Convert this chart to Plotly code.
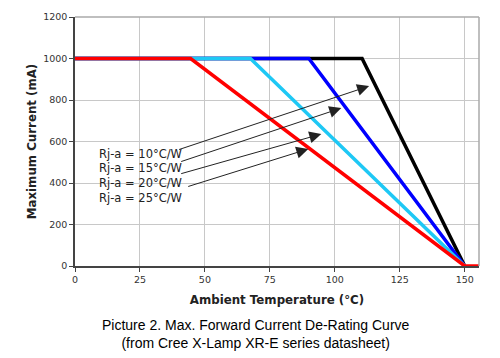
import plotly.graph_objects as go

# Data
temp_black = [0, 110.5, 150]
curr_black = [1000, 1000, 0]
temp_blue = [0, 90, 150]
curr_blue = [1000, 1000, 0]
temp_cyan = [0, 67.5, 150]
curr_cyan = [1000, 1000, 0]
temp_red = [0, 44.5, 150, 155.5]
curr_red = [1000, 1000, 0, 0]

labels = ["Rj-a = 10°C/W", "Rj-a = 15°C/W", "Rj-a = 20°C/W", "Rj-a = 25°C/W"]
label_x = 8.4
label_y = [540, 470, 400, 330]
arrow_tail_x = [39.5, 40.3, 40.3, 43.0]
arrow_tail_y = [559, 501, 443, 381]
arrow_head_x = [113.2, 102.5, 94.8, 89.8]
arrow_head_y = [867, 761, 636, 564]

x_ticks = [0, 25, 50, 75, 100, 125, 150]
y_ticks = [0, 200, 400, 600, 800, 1000, 1200]

fig = go.Figure()
for xs, ys, col in [
    (temp_black, curr_black, "#000000"),
    (temp_blue, curr_blue, "#0000ff"),
    (temp_cyan, curr_cyan, "#1ec8f5"),
    (temp_red, curr_red, "#ff0000"),
]:
    fig.add_trace(go.Scatter(x=xs, y=ys, mode="lines",
                             line=dict(color=col, width=3.5),
                             showlegend=False, hoverinfo="skip"))

for t, y in zip(labels, label_y):
    fig.add_annotation(x=label_x, y=y, xref="x", yref="y", text=t,
                       showarrow=False, xanchor="left", yanchor="middle",
                       font=dict(family="DejaVu Sans", size=11.5, color="#222222"))
for tx, ty, hx, hy in zip(arrow_tail_x, arrow_tail_y, arrow_head_x, arrow_head_y):
    fig.add_annotation(x=hx, y=hy, ax=tx, ay=ty, xref="x", yref="y",
                       axref="x", ayref="y", text="", showarrow=True,
                       arrowhead=2, arrowsize=2.4, arrowwidth=1,
                       arrowcolor="#222222", standoff=0)

# Caption
fig.add_annotation(xref="paper", yref="paper", x=(256 - 75) / 404, y=(266 - 334) / 249,
                   text="Picture 2. Max. Forward Current De-Rating Curve<br>(from Cree X-Lamp XR-E series datasheet)",
                   showarrow=False, xanchor="center", yanchor="middle", align="center",
                   font=dict(family="Liberation Sans, Arial", size=14, color="#000000"))

fig.update_layout(
    width=500, height=358,
    margin=dict(l=75, r=21, t=17, b=92),
    paper_bgcolor="white", plot_bgcolor="white",
    xaxis=dict(range=[0, 155.5], tickvals=x_ticks, showgrid=True, gridcolor="#c8c8c8",
               gridwidth=1, zeroline=False, showline=True, linecolor="#444444", linewidth=1.5,
               ticks="outside", ticklen=4, tickcolor="#444444",
               tickfont=dict(family="DejaVu Sans", size=9.5, color="#333333"),
               title=dict(text="<b>Ambient Temperature (°C)</b>", standoff=12,
                          font=dict(family="DejaVu Sans", size=11.8, color="#222222"))),
    yaxis=dict(range=[0, 1200], tickvals=y_ticks, showgrid=True, gridcolor="#c8c8c8",
               gridwidth=1, zeroline=False, showline=True, linecolor="#444444", linewidth=1.5,
               ticks="outside", ticklen=4, tickcolor="#444444",
               tickfont=dict(family="DejaVu Sans", size=9.5, color="#333333"),
               title=dict(text="<b>Maximum Current (mA)</b>", standoff=4,
                          font=dict(family="DejaVu Sans", size=11.8, color="#222222"))),
    shapes=[
        dict(type="line", xref="paper", yref="paper", x0=0, x1=1, y0=1, y1=1,
             line=dict(color="#aaaaaa", width=1.5)),
        dict(type="line", xref="paper", yref="paper", x0=1, x1=1, y0=0, y1=1,
             line=dict(color="#aaaaaa", width=1.5)),
    ],
)

fig.write_html("out.html", config={"displayModeBar": False},
               post_script="document.body.style.margin='0';document.body.style.overflow='hidden';")
